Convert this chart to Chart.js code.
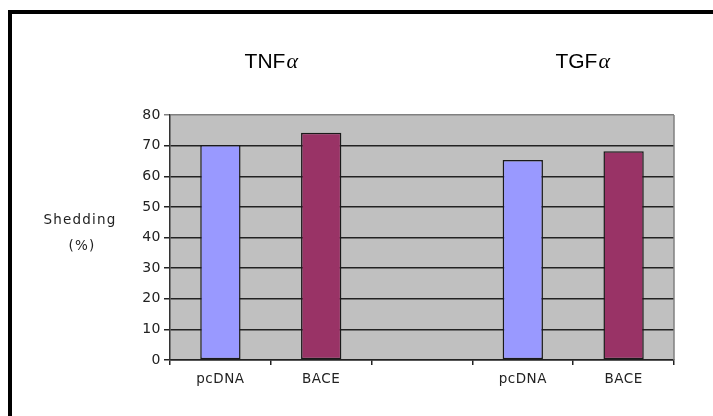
<!DOCTYPE html>
<html>
<head>
<meta charset="utf-8">
<script src="https://cdn.jsdelivr.net/npm/chart.js@4"></script>
<style>
  html, body { margin: 0; padding: 0; background: #fff; overflow: hidden; }
  #wrap { position: relative; width: 713px; height: 416px; }
  #frame { position: absolute; left: 8px; top: 10px; width: 800px; height: 500px;
           border-left: 4px solid #000; border-top: 4px solid #000; }
  canvas { position: absolute; left: 0; top: 0; }
</style>
</head>
<body>
<div id="wrap">
  <div id="frame"></div>
  <canvas id="chart" width="713" height="416"></canvas>
</div>
<script>
// data
const categories = ['pcDNA', 'BACE', '', 'pcDNA', 'BACE'];
const shedding = [70.2, 74.2, null, 65.3, 68.2];
const groupNames = ['TNF', 'TGF'];          // each followed by a greek alpha
const groupFirstIndex = [0, 3];             // group = this category and the next one
const yMin = 0;
const yMax = 80;
const yStep = 10;
const yTitle = ['Shedding', '(%)'];

const PCDNA_COLOR = '#9999ff';
const BACE_COLOR = '#993366';

// grey plot area + right border, drawn behind the bars
const plotBackground = {
    id: 'plotBackground',
    beforeDraw(chart) {
        const { ctx, chartArea: a } = chart;
        ctx.letterSpacing = '0.5px';
        ctx.save();
        ctx.fillStyle = '#c0c0c0';
        ctx.fillRect(a.left, a.top, a.right - a.left, a.bottom - a.top);
        ctx.restore();
    },
    beforeDatasetsDraw(chart) {
        const { ctx, chartArea: a } = chart;
        ctx.save();
        ctx.strokeStyle = '#808080';
        ctx.lineWidth = 1.5;
        ctx.beginPath();
        ctx.moveTo(a.right, a.top);
        ctx.lineTo(a.right, a.bottom);
        ctx.stroke();
        ctx.restore();
    }
};

// group titles above the bars and the y axis title on the left
const extraText = {
    id: 'extraText',
    afterDraw(chart) {
        const ctx = chart.ctx;
        const x = chart.scales.x;
        ctx.save();
        ctx.letterSpacing = '0px';
        ctx.fillStyle = '#000';
        ctx.textBaseline = 'alphabetic';
        ctx.textAlign = 'left';
        const shift = [0, 9];
        groupNames.forEach((name, i) => {
            const i0 = groupFirstIndex[i];
            const cx = (x.getPixelForTick(i0) + x.getPixelForTick(i0 + 1)) / 2 + shift[i];
            ctx.font = '21px "Liberation Sans", Arial, sans-serif';
            const w1 = ctx.measureText(name).width;
            ctx.font = 'italic 22px "Liberation Serif", "Times New Roman", serif';
            const w2 = ctx.measureText('\u03b1').width;
            const start = cx - (w1 + w2) / 2;
            ctx.font = '21px "Liberation Sans", Arial, sans-serif';
            ctx.fillText(name, start, 68);
            ctx.font = 'italic 22px "Liberation Serif", "Times New Roman", serif';
            ctx.fillText('\u03b1', start + w1 + 1, 68);
        });

        ctx.letterSpacing = '1.2px';
        ctx.font = '13.5px "DejaVu Sans", sans-serif';
        ctx.fillStyle = '#222';
        ctx.textAlign = 'center';
        ctx.textBaseline = 'middle';
        ctx.fillText(yTitle[0], 80, 220);
        ctx.fillText(yTitle[1], 82, 246);
        ctx.restore();
    }
};

const ctx = document.getElementById('chart').getContext('2d');
new Chart(ctx, {
    type: 'bar',
    data: {
        labels: categories,
        datasets: [{
            data: shedding,
            backgroundColor: c => categories[c.dataIndex] === 'BACE' ? BACE_COLOR : PCDNA_COLOR,
            borderColor: '#1a1a1a',
            borderWidth: 1.5,
            borderSkipped: false,
            barPercentage: 0.4,
            categoryPercentage: 1
        }]
    },
    options: {
        responsive: false,
        animation: false,
        events: [],
        layout: { padding: { top: 115, right: 39, left: 0, bottom: 0 } },
        plugins: {
            legend: { display: false },
            tooltip: { enabled: false }
        },
        scales: {
            x: {
                offset: true,
                grid: { offset: true, drawOnChartArea: false, drawTicks: true, tickLength: 5, color: '#222', lineWidth: 1.5 },
                border: { color: '#222', width: 1.5 },
                ticks: {
                    color: '#222',
                    font: { family: '"DejaVu Sans", sans-serif', size: 13.5 },
                    padding: 6,
                    maxRotation: 0,
                    autoSkip: false
                },
                afterFit: s => { s.height = 56; }
            },
            y: {
                min: yMin,
                max: yMax,
                ticks: {
                    stepSize: yStep,
                    color: '#222',
                    font: { family: '"DejaVu Sans", sans-serif', size: 14 },
                    padding: 3
                },
                grid: {
                    color: c => c.tick && c.tick.value === yMax ? '#808080' : '#222',
                    lineWidth: 1.5,
                    tickLength: 6
                },
                border: { color: '#333', width: 1.5 },
                afterFit: s => { s.width = 170; }
            }
        }
    },
    plugins: [plotBackground, extraText]
});
</script>
</body>
</html>
